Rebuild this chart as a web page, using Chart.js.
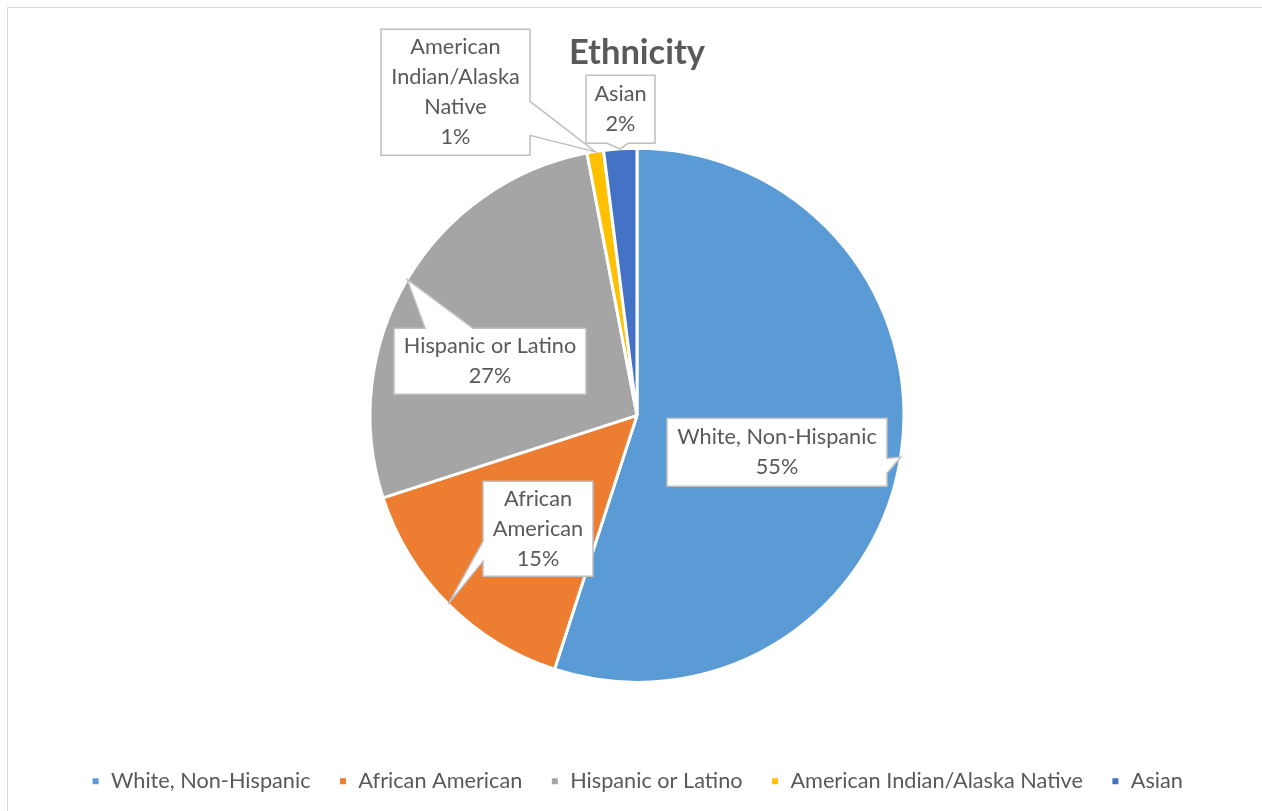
<!DOCTYPE html>
<html>
<head>
<meta charset="utf-8">
<title>Ethnicity</title>
<script src="https://cdn.jsdelivr.net/npm/chart.js@4/dist/chart.umd.min.js"></script>
<style>
  html, body { margin: 0; padding: 0; background: #fff; }
  #wrap { position: relative; width: 1262px; height: 811px; }
  #frame {
    position: absolute; left: 7px; top: 7px; right: -2px; bottom: -2px;
    border: 1px solid #d9d9d9; pointer-events: none;
  }
</style>
</head>
<body>
<div id="wrap">
  <canvas id="chart" width="1262" height="811"></canvas>
  <div id="frame"></div>
</div>
<script>
// ethnicity breakdown, percent of total
const categories = ['White, Non-Hispanic', 'African American', 'Hispanic or Latino', 'American Indian/Alaska Native', 'Asian'];
const shares = [55, 15, 27, 1, 2];
const sliceColors = ['#5b9bd5', '#ed7d31', '#a5a5a5', '#ffc000', '#4472c4'];

// callout boxes: offset of box from pie centre, box size, and which side the pointer leaves from
const callouts = [
  { dx: 30,   dy: 3,    w: 220, h: 68,  side: 'right',  base: [40, 55] },
  { dx: -154, dy: 66,   w: 110, h: 95,  side: 'left',   base: [60, 80] },
  { dx: -243, dy: -87,  w: 192, h: 66,  side: 'top',    base: [31, 79] },
  { dx: -256, dy: -386, w: 149, h: 126, side: 'right',  base: [72, 106] },
  { dx: -51,  dy: -340, w: 69,  h: 68,  side: 'bottom', base: [21, 42] }
];

const FONT = 'Lato, "Open Sans", sans-serif';
const TEXT = '#595959';
const LABEL_SIZE = 21.7;

function wrapWords(ctx, text, maxW) {
  const words = text.split(' ');
  const lines = [];
  let cur = '';
  words.forEach(function(w) {
    const test = cur ? cur + ' ' + w : w;
    if (cur && ctx.measureText(test).width > maxW) {
      lines.push(cur);
      cur = w;
    } else {
      cur = test;
    }
  });
  if (cur) lines.push(cur);
  return lines;
}

// box outline with a pointer wedge to (tx, ty)
function calloutPath(ctx, x, y, w, h, side, base, tx, ty) {
  const r = x + w, b = y + h;
  ctx.beginPath();
  ctx.moveTo(x, y);
  if (side === 'top') { ctx.lineTo(x + base[0], y); ctx.lineTo(tx, ty); ctx.lineTo(x + base[1], y); }
  ctx.lineTo(r, y);
  if (side === 'right') { ctx.lineTo(r, y + base[0]); ctx.lineTo(tx, ty); ctx.lineTo(r, y + base[1]); }
  ctx.lineTo(r, b);
  if (side === 'bottom') { ctx.lineTo(x + base[1], b); ctx.lineTo(tx, ty); ctx.lineTo(x + base[0], b); }
  ctx.lineTo(x, b);
  if (side === 'left') { ctx.lineTo(x, y + base[1]); ctx.lineTo(tx, ty); ctx.lineTo(x, y + base[0]); }
  ctx.closePath();
}

const calloutPlugin = {
  id: 'callouts',
  afterDatasetsDraw(chart) {
    const ctx = chart.ctx;
    const meta = chart.getDatasetMeta(0);
    const values = chart.data.datasets[0].data;
    const total = values.reduce(function(a, v) { return a + v; }, 0);
    ctx.save();
    ctx.font = LABEL_SIZE + 'px ' + FONT;
    meta.data.forEach(function(arc, i) {
      const p = arc.getProps(['x', 'y', 'startAngle', 'endAngle', 'outerRadius'], true);
      const mid = (p.startAngle + p.endAngle) / 2;
      const tx = p.x + Math.cos(mid) * p.outerRadius;
      const ty = p.y + Math.sin(mid) * p.outerRadius;
      const c = callouts[i];
      const bx = p.x + c.dx, by = p.y + c.dy;

      calloutPath(ctx, bx, by, c.w, c.h, c.side, c.base, tx, ty);
      ctx.fillStyle = '#ffffff';
      ctx.fill();
      ctx.lineWidth = 1.5;
      ctx.strokeStyle = '#bfbfbf';
      ctx.stroke();

      const lines = wrapWords(ctx, chart.data.labels[i], c.w - 12);
      lines.push(Math.round(values[i] / total * 100) + '%');
      const lh = 30;
      const cy = by + c.h / 2 - (lines.length - 1) * lh / 2;
      ctx.fillStyle = TEXT;
      ctx.textAlign = 'center';
      ctx.textBaseline = 'middle';
      lines.forEach(function(line, k) {
        ctx.fillText(line, bx + c.w / 2, cy + k * lh);
      });
    });
    ctx.restore();
  }
};

new Chart(document.getElementById('chart'), {
  type: 'pie',
  data: {
    labels: categories,
    datasets: [{
      data: shares,
      backgroundColor: sliceColors,
      borderColor: '#ffffff',
      borderWidth: 3
    }]
  },
  options: {
    responsive: false,
    animation: false,
    devicePixelRatio: 1,
    radius: 267,
    layout: { padding: { left: 12, right: 0, top: 0, bottom: 9 } },
    plugins: {
      title: {
        display: true,
        text: 'Ethnicity',
        color: TEXT,
        font: { family: FONT, size: 34.5, weight: 'bold' },
        padding: { top: 32, bottom: 15 }
      },
      legend: {
        position: 'bottom',
        labels: {
          color: TEXT,
          font: { family: FONT, size: LABEL_SIZE },
          boxWidth: 9,
          boxHeight: 9,
          padding: 28
        }
      },
      tooltip: { enabled: false }
    }
  },
  plugins: [calloutPlugin]
});
</script>
</body>
</html>
